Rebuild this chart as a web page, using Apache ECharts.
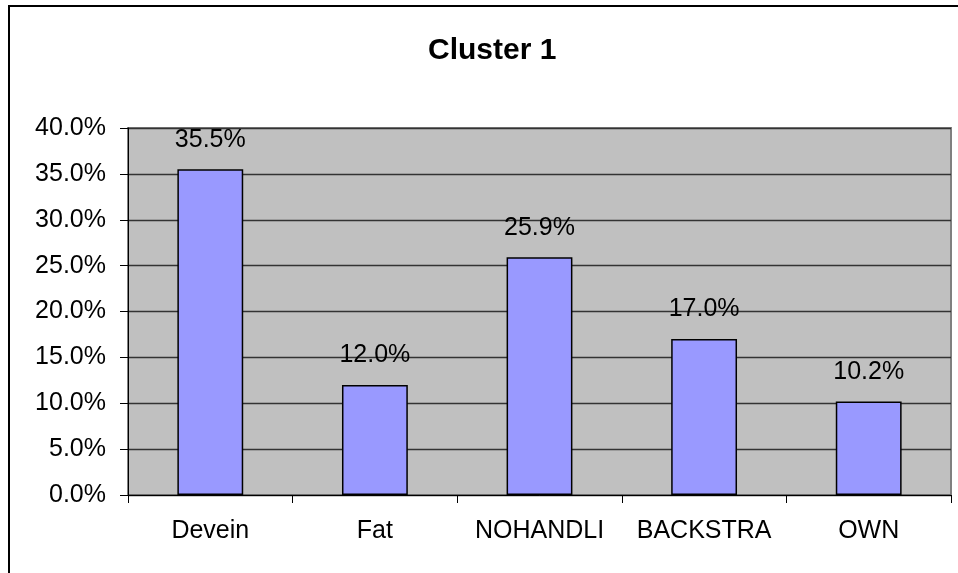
<!DOCTYPE html>
<html>
<head>
<meta charset="utf-8">
<script src="https://cdn.jsdelivr.net/npm/echarts@6/dist/echarts.min.js"></script>
<style>
  html, body { margin: 0; padding: 0; background: #fff; }
  #chart { width: 958px; height: 573px; }
</style>
</head>
<body>
<div id="chart"></div>
<script>
// data
var categories = ['Devein', 'Fat', 'NOHANDLI', 'BACKSTRA', 'OWN'];
var shares = [35.5, 12.0, 25.9, 17.0, 10.2];   // percent
var yTicks = { min: 0, max: 40, step: 5 };

var font = "'Liberation Sans', Arial, sans-serif";

var myChart = echarts.init(document.getElementById('chart'));
var option = {
  backgroundColor: '#fff',
  animation: false,
  title: {
    text: 'Cluster 1',
    left: 423,
    top: 31,
    textStyle: { fontFamily: font, fontSize: 30, fontWeight: 'bold', color: '#000' }
  },
  // outer chart frame (only top/left visible in the reference)
  graphic: [{
    type: 'rect',
    shape: { x: 9, y: 6, width: 1000, height: 1000 },
    style: { fill: null, stroke: '#000', lineWidth: 2 },
    silent: true
  }],
  grid: {
    left: 128, top: 128, right: 7, bottom: 78,
    show: true,
    backgroundColor: '#C0C0C0',
    borderColor: '#808080',
    borderWidth: 2
  },
  xAxis: {
    type: 'category',
    data: categories,
    axisLine: { lineStyle: { color: '#000', width: 1 } },
    axisTick: { show: true, length: 8, inside: false, lineStyle: { color: '#000' } },
    axisLabel: { interval: 0, margin: 24, fontFamily: font, fontSize: 25, color: '#000' }
  },
  yAxis: {
    type: 'value',
    min: yTicks.min,
    max: yTicks.max,
    interval: yTicks.step,
    axisLine: { show: true, lineStyle: { color: '#000', width: 1 } },
    axisTick: { show: true, length: 8, lineStyle: { color: '#000' } },
    splitLine: { show: true, lineStyle: { color: '#333', width: 1.3 } },
    axisLabel: {
      margin: 22,
      fontFamily: font, fontSize: 25, color: '#000',
      formatter: function (v) { return v.toFixed(1) + '%'; }
    }
  },
  series: [{
    type: 'bar',
    data: shares,
    barCategoryGap: '60%',
    itemStyle: { color: '#9999FF', borderColor: '#000', borderWidth: 1.5 },
    label: {
      show: true,
      position: 'top',
      distance: 17,
      fontFamily: font, fontSize: 25, color: '#000',
      formatter: function (p) { return p.value.toFixed(1) + '%'; }
    }
  }]
};
myChart.setOption(option);
</script>
</body>
</html>
